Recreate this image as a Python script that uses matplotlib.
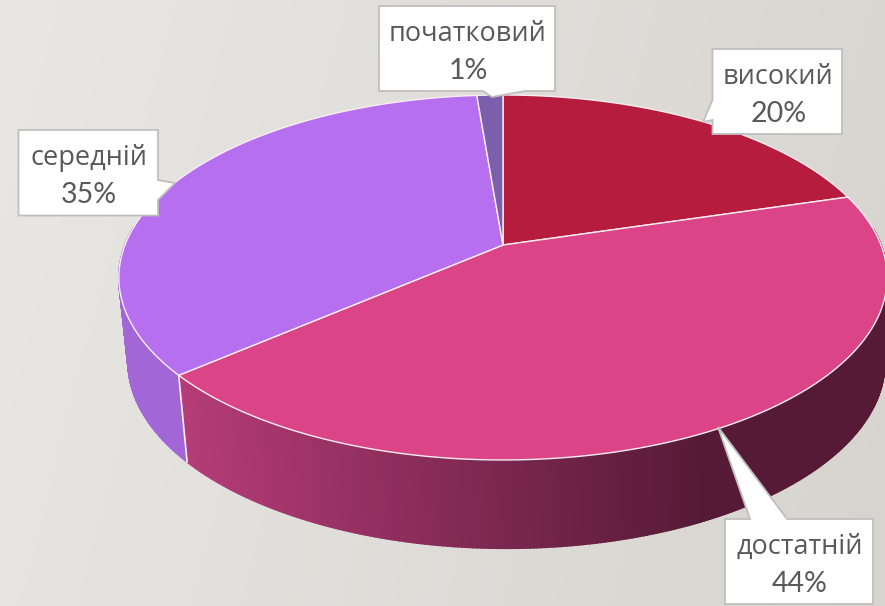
import numpy as np
import matplotlib
matplotlib.use('Agg')
import matplotlib.pyplot as plt
from matplotlib.patches import Polygon
from matplotlib.colors import to_rgb

categories = ['високий', 'достатній', 'середній', 'початковий']
values = [20.4, 43.3, 35.0, 1.3]
percent_labels = ['20%', '44%', '35%', '1%']
top_colors = ['#b51c3e', '#dc4488', '#b66fee', '#7b5fac']
side_left = ['#8a1530', '#b53c78', '#a266d6', '#6a4f98']
side_right = ['#8a1530', '#561a36', '#9a5fca', '#6a4f98']

W, H = 885, 606
fig = plt.figure(figsize=(W / 100, H / 100), dpi=100)
ax = fig.add_axes([0, 0, 1, 1])
ax.set_xlim(0, W)
ax.set_ylim(H, 0)
ax.axis('off')

# background
gx, gy = np.meshgrid(np.linspace(0, 1, 200), np.linspace(0, 1, 140))
t = np.clip(0.85 * gx + 0.15 * gy, 0, 1)[..., None]
bg = (1 - t) * np.array(to_rgb('#e9e7e4')) + t * np.array(to_rgb('#d7d4cf'))
ax.imshow(bg, extent=[0, W, H, 0], aspect='auto', zorder=0, interpolation='bilinear')

# perspective projection of the pie disc
CX, CY, A, B, K = 503, 245, 378, 176.7, 0.178


def project(theta, sx=1.0, sy=1.0, dx=0.0, dy=0.0):
    u, v = np.sin(theta), np.cos(theta)
    d = 1 + K * v
    return CX + dx + sx * A * u / d, CY + dy - sy * B * v / d


LOW = dict(sx=0.985, sy=1.02, dx=3.5, dy=84)
fracs = np.array(values) / sum(values)
edges = np.concatenate([[0], np.cumsum(fracs)]) * 2 * np.pi

# side walls: gradient strips, front part of the rim only
for i in range(len(values)):
    th = np.linspace(edges[i], edges[i + 1], max(int((edges[i + 1] - edges[i]) * 120), 2))
    c0, c1 = np.array(to_rgb(side_left[i])), np.array(to_rgb(side_right[i]))
    for a, b in zip(th[:-1], th[1:]):
        if np.cos(0.5 * (a + b)) > 0.1:
            continue
        xa, ya = project(a)
        xb, yb = project(b)
        xc, yc = project(b, **LOW)
        xd, yd = project(a, **LOW)
        f = np.clip((0.5 * (xa + xb) - 180) / (700 - 180), 0, 1)
        col = (1 - f) * c0 + f * c1
        ax.add_patch(Polygon([(xa, ya), (xb, yb), (xc, yc), (xd, yd)], closed=True,
                             fc=col, ec=col, lw=1.2, zorder=2))

# wall separator
xs0, ys0 = project(edges[2])
xs1, ys1 = project(edges[2], **LOW)
ax.plot([xs0, xs1], [ys0, ys1], color='#f4eef4', lw=1.2, zorder=3)

# top faces
for i in range(len(values)):
    th = np.linspace(edges[i], edges[i + 1], max(int((edges[i + 1] - edges[i]) * 120), 6))
    x, y = project(th)
    pts = [(CX, CY)] + list(zip(x, y))
    ax.add_patch(Polygon(pts, closed=True, fc=top_colors[i], ec='#f8eef2', lw=1.0,
                         joinstyle='round', zorder=4))

# callouts: (left, top, right, bottom) and pointer points
boxes = [
    (712.5, 49, 842, 134),
    (725, 519, 873, 604),
    (18.5, 130, 158, 215.5),
    (379, 6, 555, 91),
]
pointers = [
    [(712.5, 100), (703, 122), (712.5, 120)],
    [(787, 519), (718, 427), (750, 519)],
    [(158, 180), (175, 183), (158, 200)],
    [(525, 91), (492, 97), (483, 91)],
]
edges_on_side = ['left', 'top', 'right', 'bottom']


def outline(box, ptr, side):
    l, t_, r, b = box
    if side == 'left':
        return [(l, t_), (r, t_), (r, b), (l, b), ptr[2], ptr[1], ptr[0]]
    if side == 'top':
        return [(l, t_), ptr[2], ptr[1], ptr[0], (r, t_), (r, b), (l, b)]
    if side == 'right':
        return [(l, t_), (r, t_), ptr[0], ptr[1], ptr[2], (r, b), (l, b)]
    return [(l, t_), (r, t_), (r, b), ptr[0], ptr[1], ptr[2], (l, b)]


txt = '#595959'
for name, pct, box, ptr, side in zip(categories, percent_labels, boxes, pointers, edges_on_side):
    ax.add_patch(Polygon(outline(box, ptr, side), closed=True, fc='white', ec='#bfbfbf', lw=1.3,
                         joinstyle='miter', zorder=5))
    mx = 0.5 * (box[0] + box[2]) + 1
    ax.text(mx, box[1] + 28, name, ha='center', va='center', color=txt, fontsize=19.5,
            family='Open Sans', zorder=6)
    ax.text(mx, box[1] + 65, pct, ha='center', va='center', color=txt, fontsize=20.5,
            family='Lato', zorder=6)

fig.savefig('out.png', dpi=100)
